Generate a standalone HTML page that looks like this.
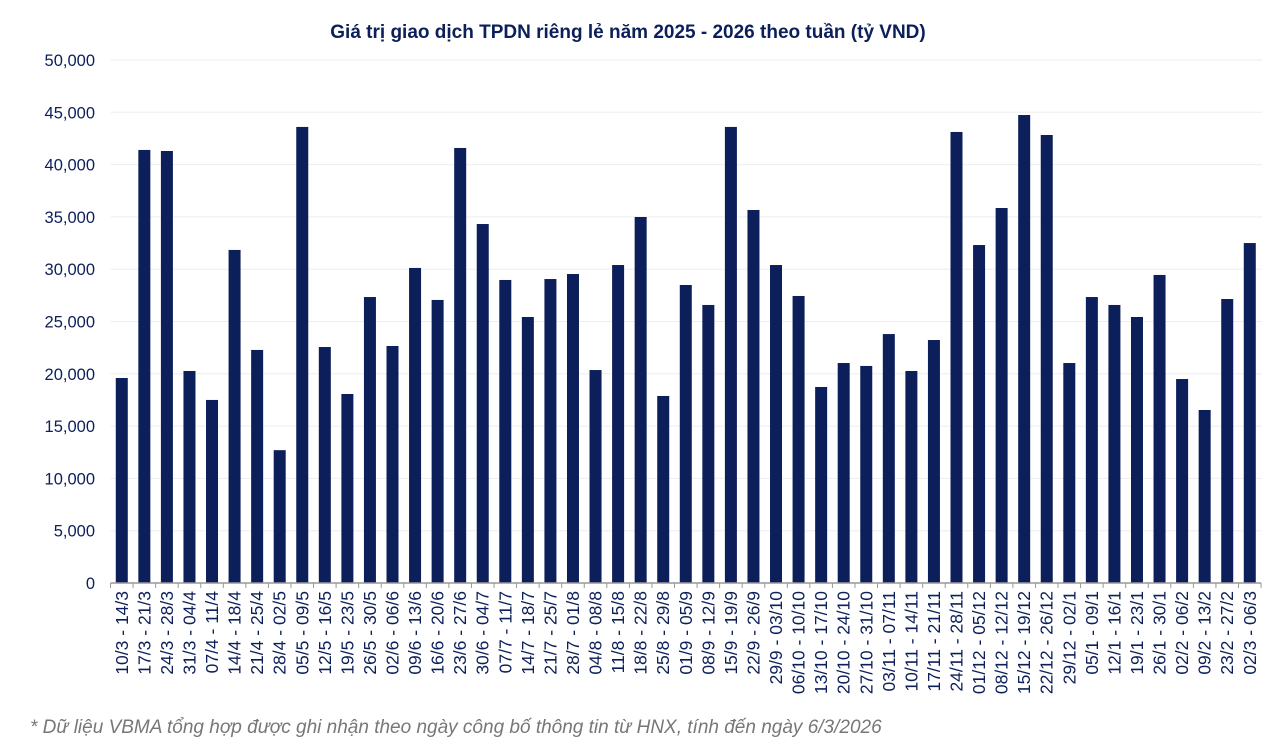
<!DOCTYPE html>
<html><head><meta charset="utf-8"><style>
html,body{margin:0;padding:0;background:#fff;}
svg{display:block;font-family:"Liberation Sans",sans-serif;}
</style></head><body>
<svg width="1280" height="745" viewBox="0 0 1280 745" xmlns="http://www.w3.org/2000/svg">
<text x="628" y="38" text-anchor="middle" font-size="19" font-weight="bold" fill="#0c1f5a">Giá trị giao dịch TPDN riêng lẻ năm 2025 - 2026 theo tuần (tỷ VND)</text>
<g id="grid"></g>
<g id="bars"></g>
<g id="labels"></g>
<text x="30" y="733" font-size="19" font-style="italic" fill="#777">* Dữ liệu VBMA tổng hợp được ghi nhận theo ngày công bố thông tin từ HNX, tính đến ngày 6/3/2026</text>
<script>
var vals=[19600,41400,41300,20270,17500,31840,22280,12700,43600,22560,18070,27340,22660,30120,27060,41590,34320,28970,25430,29060,29540,20360,30400,34990,17880,28490,26580,43600,35660,30400,27440,18740,21030,20750,23800,20270,23230,43120,32310,35850,44740,42830,21030,27340,26580,25430,29450,19500,16540,27150,32500];
var labs=["10/3 - 14/3","17/3 - 21/3","24/3 - 28/3","31/3 - 04/4","07/4 - 11/4","14/4 - 18/4","21/4 - 25/4","28/4 - 02/5","05/5 - 09/5","12/5 - 16/5","19/5 - 23/5","26/5 - 30/5","02/6 - 06/6","09/6 - 13/6","16/6 - 20/6","23/6 - 27/6","30/6 - 04/7","07/7 - 11/7","14/7 - 18/7","21/7 - 25/7","28/7 - 01/8","04/8 - 08/8","11/8 - 15/8","18/8 - 22/8","25/8 - 29/8","01/9 - 05/9","08/9 - 12/9","15/9 - 19/9","22/9 - 26/9","29/9 - 03/10","06/10 - 10/10","13/10 - 17/10","20/10 - 24/10","27/10 - 31/10","03/11 - 07/11","10/11 - 14/11","17/11 - 21/11","24/11 - 28/11","01/12 - 05/12","08/12 - 12/12","15/12 - 19/12","22/12 - 26/12","29/12 - 02/1","05/1 - 09/1","12/1 - 16/1","19/1 - 23/1","26/1 - 30/1","02/2 - 06/2","09/2 - 13/2","23/2 - 27/2","02/3 - 06/3"];
var NS="http://www.w3.org/2000/svg";
function el(t,a,p,txt){var e=document.createElementNS(NS,t);for(var k in a)e.setAttribute(k,a[k]);if(txt)e.textContent=txt;document.getElementById(p).appendChild(e);return e;}
var y0=583,s=523/50000,x0=110.5,step=22.56;
for(var v=0;v<=50000;v+=5000){var y=y0-v*s;
 if(v>0)el("line",{x1:x0,x2:1262,y1:y,y2:y,stroke:"#eeeeee","stroke-width":1},"grid");
 el("text",{x:95,y:y+6,"text-anchor":"end","font-size":"16.5",fill:"#0c1f5a"},"grid",v.toLocaleString("en-US"));}
vals.forEach(function(v,i){var cx=x0+step*(i+0.5),h=v*s;
 el("rect",{x:cx-6,y:y0-h,width:12,height:h,fill:"#0c1f5a"},"bars");
 el("text",{transform:"translate("+(cx+6)+",591) rotate(-90)","text-anchor":"end","font-size":"17.5",fill:"#0c1f5a"},"labels",labs[i]);});
el("line",{x1:x0,x2:x0+step*51,y1:y0,y2:y0,stroke:"#999","stroke-width":1.5},"labels");
for(var i=0;i<=51;i++){var x=x0+step*i;el("line",{x1:x,x2:x,y1:y0,y2:y0+5,stroke:"#999","stroke-width":1},"labels");}
</script>
</svg>
</body></html>
